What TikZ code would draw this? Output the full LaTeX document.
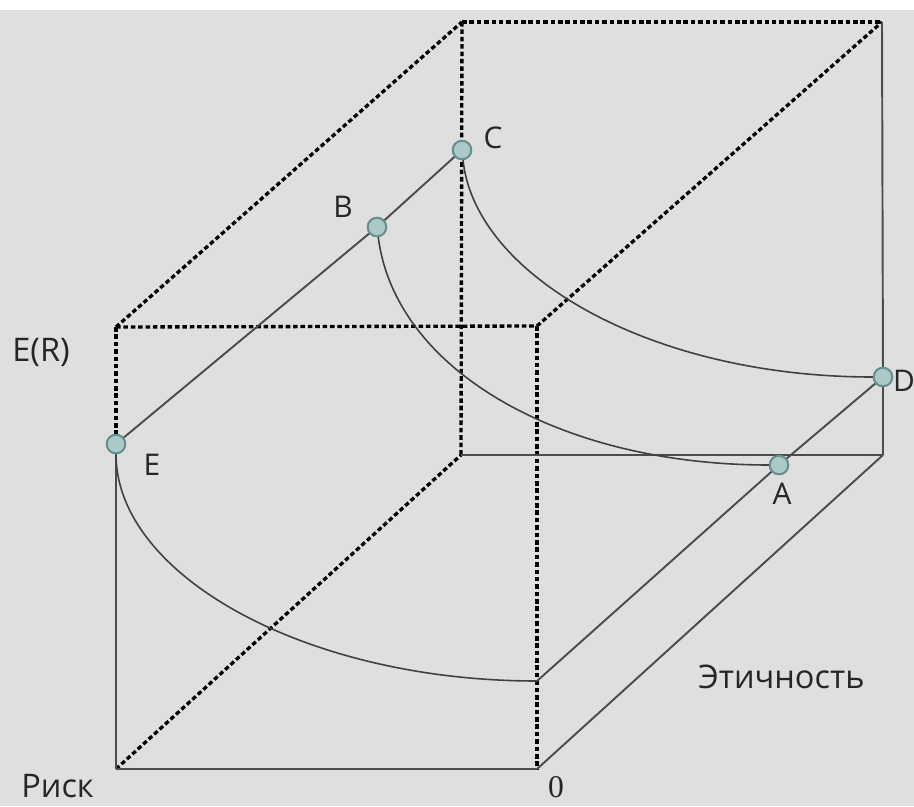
\documentclass[tikz,border=0pt]{standalone}
\usepackage{fontspec}
\setmainfont{Open Sans}
\newfontfamily\numfont{Liberation Serif}
\begin{document}
\begin{tikzpicture}[x=0.02cm,y=-0.02cm,
  edge/.style={draw=black!70,line width=1.1pt},
  dotedge/.style={draw=black,line width=1.9pt,dash pattern=on 2.6pt off 1.6pt},
  curve/.style={draw=black!75,line width=0.9pt},
  pt/.style={circle,draw=black!45!teal!60,fill=teal!28!white!80!gray,line width=1.1pt,minimum size=0.37cm,inner sep=0pt},
  lab/.style={font=\fontsize{17}{20}\selectfont,text=black!85,inner sep=0pt}]
\useasboundingbox (0,0) rectangle (914,806);
\fill[white] (0,0) rectangle (914,10);
\fill[gray!25] (0,10) rectangle (914,806);
% cube corners
\coordinate (ftl) at (116,327);
\coordinate (ftr) at (537,326);
\coordinate (fbl) at (116,769);
\coordinate (fbr) at (537,769);
\coordinate (btl) at (462,22);
\coordinate (btr) at (882,22);
\coordinate (bbl) at (461,455);
\coordinate (bbr) at (883,455);
\coordinate (F) at (537,681);
% dotted edges
\draw[dotedge] (ftl) -- (ftr);
\draw[dotedge] (ftr) -- (fbr);
\draw[dotedge] (btl) -- (btr);
\draw[dotedge] (btl) -- (bbl);
\draw[dotedge] (ftl) -- (btl);
\draw[dotedge] (ftr) -- (btr);
\draw[dotedge] (fbl) -- (bbl);
% points
\node[pt] (C) at (462,150) {};
\node[pt] (B) at (377,227) {};
\node[pt] (E) at (116,444) {};
\node[pt] (D) at (883,377) {};
\node[pt] (A) at (779,465) {};
\draw[dotedge] (ftl) -- (E);
% solid edges
\draw[edge] (btr) -- (D) (D) -- (bbr);
\draw[edge] (bbl) -- (bbr);
\draw[edge] (fbl) -- (fbr);
\draw[edge] (E) -- (fbl);
\draw[edge] (fbr) -- (bbr);
\draw[edge] (F) -- (A) (A) -- (D);
\draw[edge] (E) -- (B) (B) -- (C);
% curves
\draw[curve] (C) .. controls (475,275) and (650,377) .. (D);
\draw[curve] (B) .. controls (395,370) and (560,465) .. (A);
\draw[curve] (E) .. controls (116,575) and (305,681) .. (F);
% redraw points on top
\node[pt] at (C) {};
\node[pt] at (B) {};
\node[pt] at (E) {};
\node[pt] at (D) {};
\node[pt] at (A) {};
% labels
\node[lab] (lC) at (493,138) {C};
\node[lab] (lB) at (343,207) {B};
\node[lab] (lE) at (152,465) {E};
\node[lab] (lD) at (904,381) {D};
\node[lab] (lA) at (782,494) {A};
\node[lab,anchor=west,font=\fontsize{18.5}{21}\selectfont] (lER) at (12,352) {E(R)};
\node[lab,anchor=base west,font=\fontsize{18.5}{21}\selectfont] (lRisk) at (21,797) {Риск};
\node[lab,anchor=base west,font=\fontsize{18.5}{21}\selectfont] (lEth) at (698,688) {Этичность};
\node[lab,anchor=base,font=\numfont\fontsize{18}{20}\selectfont] (l0) at (556,797) {0};
\end{tikzpicture}
\end{document}
